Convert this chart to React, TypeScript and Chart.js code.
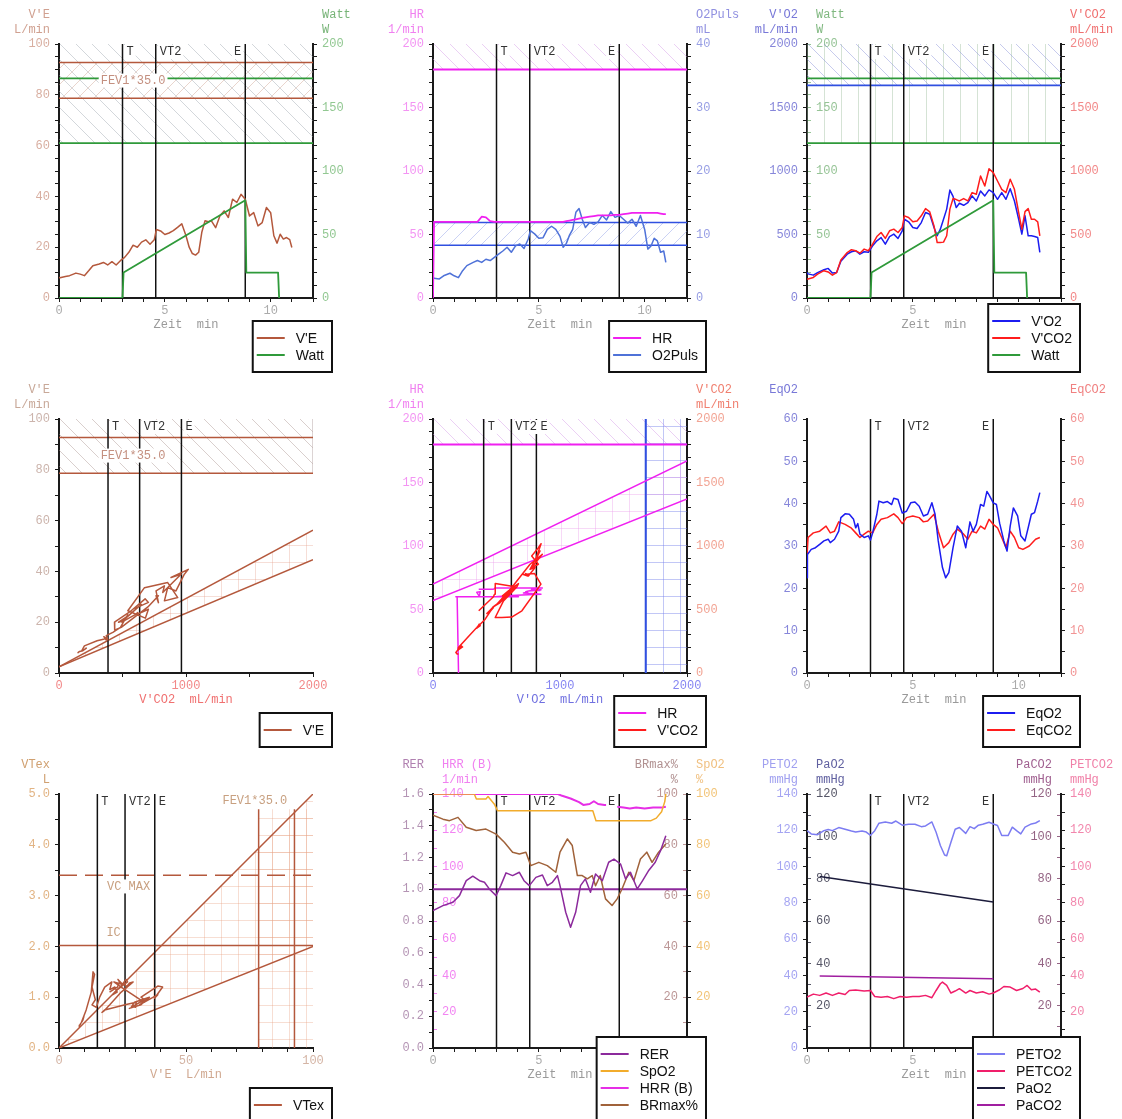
import React, { useEffect, useRef } from "react";
import { Chart, registerables } from "chart.js";

Chart.register(...registerables);

/* ================= data ================= */
// shared time grid (min) for breath-by-breath series
const T_MIN = [0, 0.05, 0.3, 0.5, 0.8, 1.0, 1.2, 1.4, 1.6, 1.9, 2.1, 2.3, 2.5, 2.7, 2.9, 3.1, 3.3, 3.5, 3.7, 3.9, 4.1, 4.3, 4.5, 4.6, 4.8, 5.0, 5.2, 5.4, 5.6, 5.8, 6.0, 6.15, 6.3, 6.45, 6.6, 6.75, 6.9, 7.05, 7.2, 7.4, 7.6, 7.8, 8.0, 8.2, 8.4, 8.6, 8.8, 9.0, 9.2, 9.4, 9.6, 9.8, 10.0, 10.15, 10.3, 10.45, 10.6, 10.75, 10.9, 11.0];
const VE = [8.1, 8.0, 8.5, 8.8, 9.8, 9.4, 8.8, 10.7, 12.7, 13.4, 14.0, 13.0, 14.3, 13.0, 14.7, 16.0, 18.0, 20.8, 20.0, 22.0, 22.9, 21.2, 22.9, 27.0, 26.4, 25.0, 25.6, 26.5, 27.8, 29.2, 24.5, 20.0, 17.5, 16.9, 18.0, 26.0, 30.4, 30.0, 30.4, 27.7, 32.3, 34.3, 31.7, 38.9, 37.6, 40.8, 38.9, 32.3, 33.6, 28.4, 29.7, 35.6, 33.6, 24.5, 21.6, 25.1, 23.2, 23.8, 23.0, 19.9];
const VO2 = [201, 190, 180, 200, 222, 233, 196, 200, 290, 345, 364, 372, 345, 364, 360, 411, 450, 476, 424, 484, 503, 469, 529, 620, 600, 555, 547, 594, 673, 660, 555, 490, 542, 620, 700, 850, 800, 712, 746, 730, 751, 804, 764, 843, 804, 851, 830, 777, 830, 777, 861, 764, 620, 503, 647, 490, 490, 484, 476, 360];
const VCO2 = [150, 150, 162, 188, 215, 205, 180, 200, 300, 358, 380, 372, 353, 385, 372, 424, 484, 516, 469, 529, 542, 516, 555, 647, 634, 600, 607, 647, 704, 678, 568, 437, 437, 440, 490, 700, 783, 775, 764, 783, 764, 830, 817, 961, 882, 1018, 987, 921, 856, 830, 935, 856, 673, 542, 680, 704, 620, 620, 600, 490];
const HR = [0, 60, 60, 60, 60, 60, 60, 60, 60, 60, 60, 64, 63.5, 60.5, 60, 60, 60, 60, 60, 60, 60, 60, 60, 60, 60, 60, 60, 60, 60, 60, 60, 60, 60.5, 61, 61.5, 62, 62.5, 63, 63.5, 64, 64.5, 65, 65, 65, 65, 65.5, 65.5, 66, 66.5, 67, 67, 67, 67, 67, 67, 67, 67, 66.5, 66, 66];
const O2PULS = [3.2, 3.1, 3.0, 3.5, 3.9, 3.5, 3.2, 4.3, 5.1, 5.6, 5.9, 5.6, 6.1, 5.9, 6.4, 6.9, 7.4, 8.0, 7.2, 8.2, 8.5, 7.8, 9.3, 10.6, 10.1, 9.4, 9.5, 10.8, 11.3, 10.8, 9.7, 8.0, 8.6, 9.9, 10.8, 13.5, 14.1, 12.4, 11.1, 11.9, 11.6, 12.0, 13.0, 12.3, 13.6, 12.7, 13.0, 12.4, 11.8, 12.4, 11.3, 13.0, 10.8, 7.7, 8.2, 9.4, 9.0, 7.2, 7.4, 5.6];
const VTEX = [0.45, 0.42, 0.48, 0.5, 0.62, 0.55, 0.5, 0.75, 1.1, 1.5, 1.45, 1.2, 0.95, 0.85, 0.8, 1.0, 1.2, 1.3, 1.15, 1.2, 1.1, 1.05, 1.15, 1.3, 1.35, 1.25, 1.3, 1.2, 1.28, 1.3, 1.1, 0.85, 0.72, 0.7, 0.75, 0.85, 0.9, 0.8, 0.82, 0.78, 0.85, 0.95, 0.85, 1.05, 0.98, 1.2, 1.22, 1.0, 0.95, 0.8, 0.9, 1.0, 0.9, 1.2, 1.3, 1.25, 1.35, 1.3, 1.2, 1.1];

const WATT_T = [0, 3.0, 3.05, 8.8, 8.85, 10.35, 10.4];
const WATT = [0, 0, 20, 77, 20, 20, 0];

const EQO2_T = [0, 0.02, 0.2, 0.4, 0.6, 0.8, 1.0, 1.1, 1.3, 1.5, 1.6, 1.8, 2.0, 2.2, 2.3, 2.4, 2.5, 2.7, 2.9, 3.0, 3.1, 3.3, 3.4, 3.6, 3.8, 4.0, 4.1, 4.3, 4.5, 4.7, 4.9, 5.1, 5.3, 5.5, 5.7, 5.9, 6.05, 6.2, 6.4, 6.55, 6.7, 6.9, 7.1, 7.3, 7.5, 7.7, 7.85, 8.0, 8.2, 8.35, 8.5, 8.6, 8.8, 8.95, 9.1, 9.3, 9.45, 9.6, 9.75, 9.95, 10.1, 10.3, 10.45, 10.6, 10.75, 10.9, 11.0];
const EQO2 = [22.5, 28, 29.2, 29.6, 30.4, 31.2, 31.6, 30.8, 31.6, 33.5, 36.7, 37.6, 37.5, 36.3, 34.3, 35.3, 32.8, 32, 32.4, 31.4, 33.1, 37.5, 40.6, 40.2, 40.5, 39.8, 41.3, 41, 37.8, 38.2, 40.2, 40.4, 39.4, 37.1, 37.5, 40.2, 37.5, 31.2, 24.9, 22.5, 23.7, 29.6, 34.7, 33.5, 29.6, 35.7, 33.5, 35.1, 39.8, 39.4, 42.9, 42.1, 40.2, 39.8, 35.4, 31.2, 28.8, 34.7, 39, 37.1, 32.4, 31.2, 34.3, 37.5, 37.9, 40.6, 42.6];
const EQCO2_T = [0, 0.05, 0.3, 0.6, 0.9, 1.1, 1.3, 1.5, 1.8, 2.1, 2.3, 2.5, 2.7, 2.9, 3.1, 3.3, 3.5, 3.8, 4.1, 4.3, 4.5, 4.7, 5.0, 5.3, 5.5, 5.7, 6.0, 6.2, 6.45, 6.7, 6.9, 7.1, 7.4, 7.6, 7.8, 8.0, 8.2, 8.4, 8.6, 8.8, 9.0, 9.2, 9.4, 9.6, 9.8, 10.0, 10.2, 10.5, 10.8, 11.0];
const EQCO2 = [27.6, 32, 33.1, 33.5, 34.7, 33.1, 33.5, 35.7, 35.1, 34.2, 33.1, 32, 32.8, 33.5, 33.1, 35.1, 36.3, 36.7, 37.6, 36.7, 35.3, 36.7, 37.1, 36.7, 35.7, 35.9, 37.5, 33.5, 29.6, 30.8, 32.8, 34, 32.8, 31.6, 33.5, 33.1, 34.7, 34, 36.3, 35.1, 34.3, 32, 29.6, 33.5, 32, 29.6, 29.2, 30, 31.6, 32];

const RER_T = [0, 0.47, 0.94, 1.25, 1.57, 1.88, 2.2, 2.43, 2.66, 2.98, 3.2, 3.45, 3.76, 4.08, 4.3, 4.55, 4.86, 5.17, 5.4, 5.64, 5.88, 6.0, 6.27, 6.5, 6.74, 6.97, 7.2, 7.44, 7.68, 8.0, 8.3, 8.55, 8.86, 9.1, 9.33, 9.65, 9.88, 10.2, 10.5, 10.75, 11.0];
const RER = [0.866, 0.897, 0.918, 0.96, 1.054, 1.082, 1.054, 1.044, 1.002, 0.96, 1.023, 1.103, 1.086, 1.107, 1.054, 1.023, 1.075, 1.09, 1.023, 1.044, 1.086, 1.023, 0.855, 0.761, 0.855, 1.023, 1.065, 0.981, 1.096, 1.054, 1.17, 1.19, 1.159, 1.065, 1.107, 1.002, 1.05, 1.12, 1.17, 1.243, 1.337];
const BRMAX_T = [0, 0.47, 0.78, 1.18, 1.57, 2.04, 2.5, 2.98, 3.37, 3.76, 4.08, 4.39, 4.62, 5.0, 5.4, 5.8, 6.0, 6.35, 6.58, 6.82, 7.05, 7.29, 7.52, 7.68, 7.9, 8.15, 8.46, 8.7, 8.93, 9.25, 9.49, 9.8, 10.1, 10.35, 10.66, 11.0];
const BRMAX = [91.7, 90.1, 89.5, 90.8, 86.9, 85.6, 86.2, 84.2, 81, 77.1, 76.4, 77.1, 71.8, 73.1, 71.8, 69.2, 77.1, 82.3, 79.7, 67.9, 67.9, 66.6, 67.9, 63.9, 67.9, 58.7, 56.1, 58.7, 62.6, 69.2, 65.9, 74.4, 77.1, 73.1, 77.1, 80.3];
const SPO2_T = [0, 1.95, 2.05, 2.5, 2.6, 2.9, 3.05, 7.55, 7.7, 10.3, 10.55, 10.8, 10.95, 11.0];
const SPO2 = [100, 100, 98, 98, 99, 96, 93.4, 93.4, 89.5, 89.5, 90.5, 93, 97, 100];
const HRR_T = [0, 5.9, 6.1, 6.5, 6.9, 7.1, 7.4, 7.6, 7.8, 8.1, 8.4, 8.7, 9.0, 9.3, 9.6, 10.0, 10.4, 10.8, 11.0];
const HRR = [140, 140, 139, 137.5, 135.5, 134, 134.5, 136, 134.5, 134, 134, 133, 132.5, 132, 132.5, 132, 132.5, 132.5, 133];

const PETO2_T = [0, 0.2, 0.5, 0.8, 1.0, 1.2, 1.5, 1.8, 2.1, 2.3, 2.6, 2.8, 3.0, 3.2, 3.4, 3.7, 4.0, 4.2, 4.5, 4.8, 5.1, 5.4, 5.6, 5.9, 6.1, 6.3, 6.5, 6.6, 6.8, 7.0, 7.2, 7.5, 7.7, 7.9, 8.1, 8.3, 8.6, 8.8, 9.0, 9.2, 9.5, 9.7, 9.9, 10.1, 10.3, 10.6, 10.8, 11.0];
const PETO2 = [119.8, 118, 117.6, 119.8, 120.4, 119.8, 121.5, 120.6, 119.6, 119, 119.6, 119, 117.2, 119.8, 123.9, 124.6, 123.9, 125.1, 122.8, 123.3, 123.3, 122, 122.4, 124.6, 118.9, 111.6, 106.4, 106, 113.4, 120.6, 121.5, 118.3, 122, 120.9, 122.8, 123.3, 124.4, 123.5, 122.6, 117.1, 117.1, 121.7, 119.8, 118, 121.7, 123.5, 124, 125.3];
const PETCO2_T = [0, 0.3, 0.6, 0.9, 1.2, 1.5, 1.8, 2.0, 2.3, 2.7, 3.0, 3.2, 3.5, 3.8, 4.1, 4.4, 4.7, 5.0, 5.3, 5.6, 5.9, 6.1, 6.3, 6.4, 6.6, 6.8, 7.0, 7.2, 7.5, 7.7, 8.0, 8.3, 8.6, 8.8, 9.1, 9.3, 9.6, 9.9, 10.2, 10.4, 10.6, 10.8, 11.0];
const PETCO2 = [28, 29.7, 29, 30.3, 29, 30.3, 29.5, 31.7, 32, 31.4, 31.7, 28.4, 28, 28.4, 27.2, 28.4, 28, 28.4, 28.4, 29, 27.7, 31.7, 35.4, 36.3, 34.5, 30.3, 31.4, 32.7, 30.3, 31.7, 30.3, 31, 29.7, 30.3, 32.1, 33.9, 33.6, 31.7, 32.8, 34.5, 32.1, 32.5, 30.8];
const PAO2_T = [0.6, 8.8];
const PAO2 = [81, 69];
const PACO2_T = [0.6, 8.8];
const PACO2 = [34, 32.7];

// events and reference values
const EVENT_NAMES = ["T", "VT2", "E"];
const EVENT_T = [3.0, 4.57, 8.8];
const EVENT_VCO2 = [386, 635, 964];
const EVENT_VO2 = [399, 617, 814];
const EVENT_VE = [15.1, 26.0, 37.7];

const VE_LIMITS = [92.7, 78.6];
const WATT_LIMITS = [173, 122];
const HR_PRED_MAX = 180;
const O2PULS_LIMITS = [11.9, 8.3];
const VO2_PRED_MAX = 1675;
const VE_VCO2_UPPER = [[0, 2.4], [2000, 56.2]];
const VE_VCO2_LOWER = [[0, 2.4], [2000, 44.6]];
const HR_VO2_UPPER = [[0, 70], [2000, 167]];
const HR_VO2_LOWER = [[0, 57], [2000, 137]];
const VT_VE_UPPER = [[0, 0], [100, 5]];
const VT_VE_LOWER = [[0, 0], [100, 2]];
const VC_MAX = 3.4;
const IC = 2.02;
const VT_FEV_TOP = 4.7;
const RER_ONE = 1.0;

/* ================= styling ================= */
const MONO = "'Liberation Mono', 'Courier New', monospace";
const SANS = "'Liberation Sans', Arial, sans-serif";
const AXIS = "#1a1a1a";
const W = 374;
const PL = 59;
const PR = 313;
const PT = 44;
const PB = 298;

const C_VE = "#b4583c";
const C_WATT = "#2f9a3a";
const C_HR = "#f020f0";
const C_O2P = "#4f72d8";
const C_VO2 = "#1c1cf0";
const C_VCO2 = "#ff1c1c";
const C_RER = "#8c2a9c";
const C_SPO2 = "#f2ac2c";
const C_HRR = "#e62ee6";
const C_BR = "#a0623a";
const C_PETO2 = "#7c7cf2";
const C_PETCO2 = "#f01e6a";
const C_PAO2 = "#1c1c3c";
const C_PACO2 = "#a01ea0";
const C_BLUE_REF = "#3050e0";

/* ================= helpers ================= */
const zip = (xs: number[], ys: number[]) => xs.map((x, i) => ({ x, y: ys[i] }));
const hline = (v: number, x0: number, x1: number) => [{ x: x0, y: v }, { x: x1, y: v }];
const vline = (v: number, y0: number, y1: number) => [{ x: v, y: y0 }, { x: v, y: y1 }];
const seg = (p: number[][]) => p.map((q) => ({ x: q[0], y: q[1] }));

function ds(pts: any[], color: string, width: number, axis: string, order: number, dash?: number[]) {
  return {
    data: pts,
    borderColor: color,
    backgroundColor: color,
    borderWidth: width,
    yAxisID: axis,
    xAxisID: "x",
    pointRadius: 0,
    pointHoverRadius: 0,
    fill: false,
    tension: 0,
    borderDash: dash || [],
    order,
    spanGaps: true,
    borderJoinStyle: "round",
  };
}
const evLines = (xs: number[], y0: number, y1: number) => xs.map((v) => ds(vline(v, y0, y1), "#111", 1.5, "y", 50));

function fmt(v: number, a: any) {
  const r = v / a.every;
  if (Math.abs(r - Math.round(r)) > 1e-6) return "";
  if (a.hideZero && Math.abs(v) < 1e-9) return "";
  return a.dec ? v.toFixed(a.dec) : String(Math.round(v));
}

function makePattern(ctx: CanvasRenderingContext2D, kind: string, color: string) {
  const s = kind === "grid" || kind === "vert" ? 17 : 16;
  const c = document.createElement("canvas");
  c.width = s;
  c.height = s;
  const g = c.getContext("2d") as CanvasRenderingContext2D;
  g.strokeStyle = color;
  g.lineWidth = 1;
  g.beginPath();
  if (kind === "bslash") {
    for (const k of [-1, 0, 1]) { g.moveTo(k * s, 0); g.lineTo(k * s + s, s); }
  } else if (kind === "slash") {
    for (const k of [-1, 0, 1]) { g.moveTo(k * s, s); g.lineTo(k * s + s, 0); }
  } else if (kind === "vert") {
    g.moveTo(8.5, 0); g.lineTo(8.5, s);
  } else {
    g.moveTo(0.5, 0); g.lineTo(0.5, s); g.moveTo(0, 0.5); g.lineTo(s, 0.5);
  }
  g.stroke();
  return ctx.createPattern(c, "repeat");
}

function boxText(ctx: CanvasRenderingContext2D, text: string, x: number, y: number, align: string, color: string) {
  ctx.font = `12px ${MONO}`;
  const w = ctx.measureText(text).width;
  const left = align === "left" ? x : align === "right" ? x - w : x - w / 2;
  ctx.fillStyle = "#fff";
  ctx.fillRect(left - 2, y - 7, w + 4, 14);
  ctx.fillStyle = color;
  ctx.textAlign = "left";
  ctx.textBaseline = "middle";
  ctx.fillText(text, left, y);
}

function decoPlugin(p: any) {
  const pats: Record<string, any> = {};
  const pat = (ctx: any, kind: string, color: string) => {
    const k = kind + color;
    if (!pats[k]) pats[k] = makePattern(ctx, kind, color);
    return pats[k];
  };
  return {
    id: "deco",
    beforeDatasetsDraw(chart: any) {
      const { ctx, chartArea: ca, scales } = chart;
      ctx.save();
      ctx.beginPath();
      ctx.rect(ca.left, ca.top, ca.right - ca.left, ca.bottom - ca.top);
      ctx.clip();
      for (const b of p.bands || []) {
        const ys = scales[b.yScale || "y"];
        const xa = b.x ? scales.x.getPixelForValue(b.x[0]) : ca.left;
        const xb = b.x ? scales.x.getPixelForValue(b.x[1]) : ca.right;
        const ya = b.y ? ys.getPixelForValue(b.y[0]) : ca.bottom;
        const yb = b.y && b.y[1] != null ? ys.getPixelForValue(b.y[1]) : ca.top;
        ctx.fillStyle = pat(ctx, b.pattern, b.color);
        ctx.fillRect(Math.min(xa, xb), Math.min(ya, yb), Math.abs(xb - xa), Math.abs(yb - ya));
      }
      for (const q of p.polys || []) {
        const ys = scales[q.yScale || "y"];
        ctx.beginPath();
        q.pts.forEach((pt: number[], i: number) => {
          const px = scales.x.getPixelForValue(pt[0]);
          const py = ys.getPixelForValue(pt[1]);
          if (i) ctx.lineTo(px, py);
          else ctx.moveTo(px, py);
        });
        ctx.closePath();
        ctx.fillStyle = pat(ctx, q.pattern, q.color);
        ctx.fill();
      }
      ctx.restore();
    },
    afterDatasetsDraw(chart: any) {
      const { ctx, chartArea: ca, scales } = chart;
      ctx.save();
      p.eventXs.forEach((v: number, i: number) => {
        const px = scales.x.getPixelForValue(v);
        const name = EVENT_NAMES[i];
        const leftSide = name === "E" && p.eSide === "left";
        boxText(ctx, name, leftSide ? px - 4 : px + 4, ca.top + 8, leftSide ? "right" : "left", "#333");
      });
      for (const t of p.texts || []) {
        const px = scales.x.getPixelForValue(t.x);
        const py = scales[t.yScale || "y"].getPixelForValue(t.y);
        boxText(ctx, t.text, px, py, "center", t.color);
      }
      ctx.restore();
    },
    afterDraw(chart: any) {
      const { ctx, chartArea: ca } = chart;
      ctx.save();
      ctx.font = `12px ${MONO}`;
      ctx.textBaseline = "middle";
      for (const h of p.headers || []) {
        ctx.fillStyle = h.color;
        ctx.textAlign = h.align;
        h.lines.forEach((ln: string, i: number) => ctx.fillText(ln, h.x, 15 + 15 * i));
      }
      ctx.textAlign = "center";
      ctx.fillStyle = p.x.titleColor;
      ctx.fillText(p.x.title, (ca.left + ca.right) / 2, ca.bottom + 27);
      // legend
      const items = p.legend || [];
      ctx.font = `14px ${SANS}`;
      const n = items.length;
      const maxW = Math.max(...items.map((it: any) => ctx.measureText(it.label).width));
      const bw = 43 + maxW + 8;
      const right = 332;
      const left = right - bw;
      const bh = 17 * (n + 1);
      const top = 372 - bh;
      ctx.fillStyle = "#fff";
      ctx.fillRect(left, top, bw, bh);
      ctx.strokeStyle = "#111";
      ctx.lineWidth = 2;
      ctx.strokeRect(left, top, bw, bh);
      items.forEach((it: any, i: number) => {
        const y = top + 17 * (i + 1);
        ctx.strokeStyle = it.color;
        ctx.lineWidth = 2;
        ctx.beginPath();
        ctx.moveTo(left + 4, y);
        ctx.lineTo(left + 32, y);
        ctx.stroke();
        ctx.fillStyle = "#111";
        ctx.textAlign = "left";
        ctx.textBaseline = "middle";
        ctx.fillText(it.label, left + 43, y + 1);
      });
      ctx.restore();
    },
  };
}

function buildConfig(p: any, H: number) {
  const tickFont = { family: MONO, size: 12 };
  const scales: any = {
    x: {
      type: "linear",
      position: "bottom",
      min: p.x.min,
      max: p.x.max,
      afterFit: (s: any) => { s.height = H - PB; },
      border: { display: true, color: AXIS, width: 2 },
      grid: { display: true, drawOnChartArea: false, drawTicks: true, tickLength: 4, color: AXIS },
      ticks: { stepSize: p.x.step, autoSkip: false, maxRotation: 0, minRotation: 0, padding: 2, color: p.x.color, font: tickFont, callback: (v: number) => fmt(v, p.x) },
    },
  };
  let hasLeft = false;
  let hasRight = false;
  for (const a of p.axes) {
    const primary = !!a.primary;
    if (primary && a.pos === "left") hasLeft = true;
    if (primary && a.pos === "right") hasRight = true;
    scales[a.id] = {
      type: "linear",
      position: a.pos,
      min: a.min,
      max: a.max,
      weight: primary ? 1 : 0,
      afterFit: (s: any) => { s.width = primary ? (a.pos === "left" ? PL : W - PR) : 0; },
      border: { display: primary, color: AXIS, width: 2 },
      grid: { display: true, drawOnChartArea: false, drawTicks: true, tickLength: primary ? 4 : -4, color: primary ? AXIS : a.color },
      ticks: {
        stepSize: a.step,
        autoSkip: false,
        mirror: !primary,
        padding: primary ? 5 : a.pos === "left" ? 9 : -9,
        color: a.color,
        font: tickFont,
        callback: (v: number) => fmt(v, a),
      },
    };
  }
  return {
    type: "line",
    data: { datasets: p.datasets },
    options: {
      responsive: false,
      maintainAspectRatio: false,
      animation: false,
      devicePixelRatio: 1,
      events: [],
      layout: { padding: { top: PT, left: hasLeft ? 0 : PL, right: hasRight ? 0 : W - PR, bottom: 0 } },
      plugins: { legend: { display: false }, tooltip: { enabled: false }, title: { display: false } },
      scales,
    },
    plugins: [decoPlugin(p)],
  };
}

/* ================= panels ================= */
const TIME_X = { min: 0, max: 12, step: 1, every: 5, color: "#ababab", title: "Zeit  min", titleColor: "#9a9a9a" };
const HATCH_GRAY = "rgba(150,160,170,0.42)";

function panels(): any[] {
  return [
    // 1: V'E / Watt vs time
    {
      x: TIME_X,
      axes: [
        { id: "y", pos: "left", min: 0, max: 100, step: 5, every: 20, color: "#d8aea0", primary: true },
        { id: "yW", pos: "right", min: 0, max: 200, step: 10, every: 50, color: "#92c892", primary: true },
      ],
      datasets: [
        ds(zip(T_MIN, VE), C_VE, 1.5, "y", 1),
        ds(zip(WATT_T, WATT), C_WATT, 1.8, "yW", 0),
        ...evLines(EVENT_T, 0, 100),
        ...VE_LIMITS.map((v) => ds(hline(v, 0, 12), C_VE, 1.5, "y", 60)),
        ...WATT_LIMITS.map((v) => ds(hline(v, 0, 12), C_WATT, 1.8, "yW", 60)),
      ],
      bands: [
        { y: [WATT_LIMITS[1], null], yScale: "yW", pattern: "bslash", color: HATCH_GRAY },
        { y: [VE_LIMITS[1], VE_LIMITS[0]], yScale: "y", pattern: "slash", color: "rgba(200,150,130,0.4)" },
      ],
      texts: [{ text: "FEV1*35.0", x: 3.5, y: 85.6, color: "#c49080" }],
      eventXs: EVENT_T,
      eSide: "left",
      headers: [
        { lines: ["V'E", "L/min"], x: 50, align: "right", color: "#d0a090" },
        { lines: ["Watt", "W"], x: 322, align: "left", color: "#78b478" },
      ],
      legend: [{ label: "V'E", color: C_VE }, { label: "Watt", color: C_WATT }],
    },
    // 2: HR / O2Puls vs time
    {
      x: TIME_X,
      axes: [
        { id: "y", pos: "left", min: 0, max: 200, step: 10, every: 50, color: "#f394f3", primary: true },
        { id: "yP", pos: "right", min: 0, max: 40, step: 2, every: 10, color: "#979ee4", primary: true },
      ],
      datasets: [
        ds(zip(T_MIN, HR), C_HR, 1.8, "y", 0),
        ds(zip(T_MIN, O2PULS), C_O2P, 1.5, "yP", 1),
        ...evLines(EVENT_T, 0, 200),
        ds(hline(HR_PRED_MAX, 0, 12), C_HR, 2, "y", 60),
        ...O2PULS_LIMITS.map((v) => ds(hline(v, 0, 12), C_BLUE_REF, 1.5, "yP", 60)),
      ],
      bands: [
        { y: [HR_PRED_MAX, null], yScale: "y", pattern: "bslash", color: "rgba(210,150,230,0.45)" },
        { y: [O2PULS_LIMITS[1], O2PULS_LIMITS[0]], yScale: "yP", pattern: "slash", color: "rgba(140,155,230,0.45)" },
      ],
      eventXs: EVENT_T,
      eSide: "left",
      headers: [
        { lines: ["HR", "1/min"], x: 50, align: "right", color: "#f080f0" },
        { lines: ["O2Puls", "mL"], x: 322, align: "left", color: "#9090e0" },
      ],
      legend: [{ label: "HR", color: C_HR }, { label: "O2Puls", color: C_O2P }],
    },
    // 3: V'O2 / V'CO2 / Watt vs time
    {
      x: TIME_X,
      axes: [
        { id: "y", pos: "left", min: 0, max: 2000, step: 100, every: 500, color: "#8686da", primary: true },
        { id: "yW", pos: "left", min: 0, max: 200, step: 10, every: 50, color: "#96c496", hideZero: true },
        { id: "yC", pos: "right", min: 0, max: 2000, step: 100, every: 500, color: "#f28888", primary: true },
      ],
      datasets: [
        ds(zip(T_MIN, VCO2), C_VCO2, 1.5, "yC", 1),
        ds(zip(T_MIN, VO2), C_VO2, 1.5, "y", 2),
        ds(zip(WATT_T, WATT), C_WATT, 1.8, "yW", 0),
        ...evLines(EVENT_T, 0, 2000),
        ...WATT_LIMITS.map((v) => ds(hline(v, 0, 12), C_WATT, 1.8, "yW", 60)),
        ds(hline(VO2_PRED_MAX, 0, 12), C_BLUE_REF, 1.8, "y", 60),
      ],
      bands: [
        { y: [WATT_LIMITS[1], null], yScale: "yW", pattern: "vert", color: "rgba(150,185,150,0.4)" },
        { y: [VO2_PRED_MAX, null], yScale: "y", pattern: "bslash", color: "rgba(130,140,215,0.45)" },
      ],
      eventXs: EVENT_T,
      eSide: "left",
      headers: [
        { lines: ["V'O2", "mL/min"], x: 50, align: "right", color: "#7878d8" },
        { lines: ["Watt", "W"], x: 68, align: "left", color: "#80b880" },
        { lines: ["V'CO2", "mL/min"], x: 322, align: "left", color: "#f07070" },
      ],
      legend: [{ label: "V'O2", color: C_VO2 }, { label: "V'CO2", color: C_VCO2 }, { label: "Watt", color: C_WATT }],
    },
    // 4: V'E vs V'CO2
    {
      x: { min: 0, max: 2000, step: 500, every: 1000, color: "#f28888", title: "V'CO2  mL/min", titleColor: "#f07070" },
      axes: [{ id: "y", pos: "left", min: 0, max: 100, step: 10, every: 20, color: "#ccb4ac", primary: true }],
      datasets: [
        ds(zip(VCO2, VE), C_VE, 1.5, "y", 0),
        ...evLines(EVENT_VCO2, 0, 100),
        ds(seg(VE_VCO2_UPPER), C_VE, 1.5, "y", 60),
        ds(seg(VE_VCO2_LOWER), C_VE, 1.5, "y", 60),
        ...VE_LIMITS.map((v) => ds(hline(v, 0, 2000), C_VE, 1.5, "y", 60)),
        ds(vline(2000, VE_LIMITS[1], 100), "#b8a8a8", 1, "y", 61),
      ],
      bands: [{ y: [VE_LIMITS[1], null], yScale: "y", pattern: "bslash", color: "rgba(165,140,135,0.42)" }],
      polys: [{ pts: [VE_VCO2_UPPER[0], VE_VCO2_UPPER[1], VE_VCO2_LOWER[1]], pattern: "grid", color: "rgba(230,160,140,0.35)" }],
      texts: [{ text: "FEV1*35.0", x: 583, y: 85.6, color: "#c49080" }],
      eventXs: EVENT_VCO2,
      eSide: "right",
      headers: [{ lines: ["V'E", "L/min"], x: 50, align: "right", color: "#c8a898" }],
      legend: [{ label: "V'E", color: C_VE }],
    },
    // 5: HR / V'CO2 vs V'O2
    {
      x: { min: 0, max: 2000, step: 500, every: 1000, color: "#8686f2", title: "V'O2  mL/min", titleColor: "#7070e0" },
      axes: [
        { id: "y", pos: "left", min: 0, max: 200, step: 10, every: 50, color: "#f394f3", primary: true },
        { id: "yC", pos: "right", min: 0, max: 2000, step: 100, every: 500, color: "#f2a494", primary: true },
      ],
      datasets: [
        ds(zip(VO2, VCO2), C_VCO2, 1.5, "yC", 0),
        ds(zip(VO2, HR), C_HR, 1.5, "y", 1),
        ...evLines(EVENT_VO2, 0, 200),
        ds(seg(HR_VO2_UPPER), C_HR, 1.5, "y", 60),
        ds(seg(HR_VO2_LOWER), C_HR, 1.5, "y", 60),
        ds(hline(HR_PRED_MAX, 0, 2000), C_HR, 2, "y", 60),
        ds(vline(VO2_PRED_MAX, 0, 200), C_BLUE_REF, 2, "y", 60),
      ],
      bands: [
        { y: [HR_PRED_MAX, null], yScale: "y", pattern: "bslash", color: "rgba(210,150,230,0.45)" },
        { x: [VO2_PRED_MAX, 2000], pattern: "grid", color: "rgba(120,130,235,0.45)" },
      ],
      polys: [{ pts: [HR_VO2_UPPER[0], HR_VO2_UPPER[1], HR_VO2_LOWER[1], HR_VO2_LOWER[0]], pattern: "grid", color: "rgba(235,160,235,0.4)" }],
      eventXs: EVENT_VO2,
      eSide: "right",
      headers: [
        { lines: ["HR", "1/min"], x: 50, align: "right", color: "#f080f0" },
        { lines: ["V'CO2", "mL/min"], x: 322, align: "left", color: "#f08070" },
      ],
      legend: [{ label: "HR", color: C_HR }, { label: "V'CO2", color: C_VCO2 }],
    },
    // 6: EqO2 / EqCO2 vs time
    {
      x: TIME_X,
      axes: [
        { id: "y", pos: "left", min: 0, max: 60, step: 5, every: 10, color: "#8686da", primary: true },
        { id: "yC", pos: "right", min: 0, max: 60, step: 5, every: 10, color: "#f29494", primary: true },
      ],
      datasets: [
        ds(zip(EQCO2_T, EQCO2), C_VCO2, 1.5, "yC", 1),
        ds(zip(EQO2_T, EQO2), C_VO2, 1.5, "y", 0),
        ...evLines(EVENT_T, 0, 60),
      ],
      eventXs: EVENT_T,
      eSide: "left",
      headers: [
        { lines: ["EqO2"], x: 50, align: "right", color: "#7878d8" },
        { lines: ["EqCO2"], x: 322, align: "left", color: "#f08080" },
      ],
      legend: [{ label: "EqO2", color: C_VO2 }, { label: "EqCO2", color: C_VCO2 }],
    },
    // 7: VTex vs V'E
    {
      x: { min: 0, max: 100, step: 10, every: 50, color: "#d4b4a4", title: "V'E  L/min", titleColor: "#d0a890" },
      axes: [{ id: "y", pos: "left", min: 0, max: 5, step: 0.5, every: 1, dec: 1, color: "#e2b484", primary: true }],
      datasets: [
        ds(zip(VE, VTEX), C_VE, 1.5, "y", 0),
        ...evLines(EVENT_VE, 0, 5),
        ds(seg(VT_VE_UPPER), C_VE, 1.5, "y", 60),
        ds(seg(VT_VE_LOWER), C_VE, 1.5, "y", 60),
        ds(hline(VC_MAX, 0, 100), C_VE, 1.5, "y", 60, [18, 8]),
        ds(hline(IC, 0, 100), C_VE, 1.5, "y", 60),
        ...VE_LIMITS.map((v) => ds(vline(v, 0, VT_FEV_TOP), C_VE, 1.5, "y", 60)),
      ],
      bands: [{ x: [VE_LIMITS[1], 100], y: [0, VT_FEV_TOP], yScale: "y", pattern: "grid", color: "rgba(232,160,130,0.35)" }],
      polys: [{ pts: [VT_VE_UPPER[0], VT_VE_UPPER[1], VT_VE_LOWER[1]], pattern: "grid", color: "rgba(232,160,130,0.35)" }],
      texts: [
        { text: "VC MAX", x: 27.4, y: 3.18, color: "#c8a080" },
        { text: "IC", x: 21.5, y: 2.26, color: "#c8a080" },
        { text: "FEV1*35.0", x: 77.1, y: 4.87, color: "#c8a080" },
      ],
      eventXs: EVENT_VE,
      eSide: "right",
      headers: [{ lines: ["VTex", "L"], x: 50, align: "right", color: "#d0a070" }],
      legend: [{ label: "VTex", color: C_VE }],
    },
    // 8: RER / SpO2 / HRR / BRmax% vs time
    {
      x: TIME_X,
      axes: [
        { id: "y", pos: "left", min: 0, max: 1.6, step: 0.1, every: 0.2, dec: 1, color: "#b494b4", primary: true },
        { id: "yH", pos: "left", min: 0, max: 140, step: 10, every: 20, color: "#f284f2", hideZero: true },
        { id: "yB", pos: "right", min: 0, max: 100, step: 10, every: 20, color: "#bc9696", hideZero: true },
        { id: "yS", pos: "right", min: 0, max: 100, step: 10, every: 20, color: "#f2c478", primary: true },
      ],
      datasets: [
        ds(zip(RER_T, RER), C_RER, 1.5, "y", 0),
        ds(zip(BRMAX_T, BRMAX), C_BR, 1.5, "yB", 1),
        ds(zip(SPO2_T, SPO2), C_SPO2, 1.5, "yS", 2),
        ds(zip(HRR_T, HRR), C_HRR, 2, "yH", 3),
        ...evLines(EVENT_T, 0, 1.6),
        ds(hline(RER_ONE, 0, 12), C_RER, 2, "y", 60),
      ],
      eventXs: EVENT_T,
      eSide: "left",
      headers: [
        { lines: ["RER"], x: 50, align: "right", color: "#b080b0" },
        { lines: ["HRR (B)", "1/min"], x: 68, align: "left", color: "#f080f0" },
        { lines: ["BRmax%", "%"], x: 304, align: "right", color: "#b09090" },
        { lines: ["SpO2", "%"], x: 322, align: "left", color: "#f0c080" },
      ],
      legend: [
        { label: "RER", color: C_RER },
        { label: "SpO2", color: C_SPO2 },
        { label: "HRR (B)", color: C_HRR },
        { label: "BRmax%", color: C_BR },
      ],
    },
    // 9: PETO2 / PETCO2 / PaO2 / PaCO2 vs time
    {
      x: TIME_X,
      axes: [
        { id: "y", pos: "left", min: 0, max: 140, step: 10, every: 20, color: "#a4a4f2", primary: true },
        { id: "yA", pos: "left", min: 0, max: 120, step: 10, every: 20, color: "#555566", hideZero: true },
        { id: "yC", pos: "right", min: 0, max: 120, step: 10, every: 20, color: "#946484", hideZero: true },
        { id: "yE", pos: "right", min: 0, max: 140, step: 10, every: 20, color: "#f286ac", primary: true },
      ],
      datasets: [
        ds(zip(PETO2_T, PETO2), C_PETO2, 1.5, "y", 0),
        ds(zip(PETCO2_T, PETCO2), C_PETCO2, 1.5, "yE", 1),
        ds(zip(PAO2_T, PAO2), C_PAO2, 1.5, "yA", 2),
        ds(zip(PACO2_T, PACO2), C_PACO2, 1.5, "yC", 3),
        ...evLines(EVENT_T, 0, 140),
      ],
      eventXs: EVENT_T,
      eSide: "left",
      headers: [
        { lines: ["PETO2", "mmHg"], x: 50, align: "right", color: "#a0a0f0" },
        { lines: ["PaO2", "mmHg"], x: 68, align: "left", color: "#6060a0" },
        { lines: ["PaCO2", "mmHg"], x: 304, align: "right", color: "#a06090" },
        { lines: ["PETCO2", "mmHg"], x: 322, align: "left", color: "#f080a8" },
      ],
      legend: [
        { label: "PETO2", color: C_PETO2 },
        { label: "PETCO2", color: C_PETCO2 },
        { label: "PaO2", color: C_PAO2 },
        { label: "PaCO2", color: C_PACO2 },
      ],
    },
  ];
}

function Panel({ cfg, left, top, height }: { cfg: any; left: number; top: number; height: number }) {
  const ref = useRef<HTMLCanvasElement | null>(null);
  useEffect(() => {
    const chart = new Chart(ref.current as HTMLCanvasElement, buildConfig(cfg, height) as any);
    return () => chart.destroy();
  }, [cfg, height]);
  return (
    <canvas
      ref={ref}
      width={W}
      height={height}
      style={{ position: "absolute", left, top, width: W, height, display: "block" }}
    />
  );
}

const PANELS = panels();

export default function App() {
  return (
    <div style={{ position: "absolute", left: 0, top: 0, width: 1122, height: 1119, background: "#fff", overflow: "hidden" }}>
      {PANELS.map((p, i) => (
        <Panel key={i} cfg={p} left={(i % 3) * 374} top={Math.floor(i / 3) * 375} height={i >= 6 ? 369 : 375} />
      ))}
    </div>
  );
}
